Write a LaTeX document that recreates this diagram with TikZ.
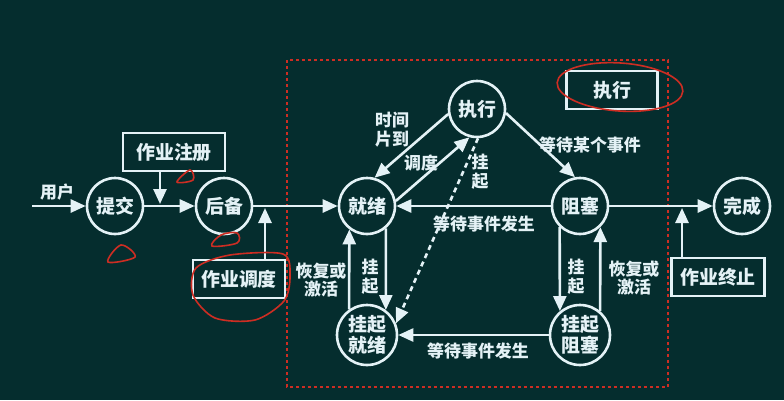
\documentclass[tikz,border=0pt]{standalone}
\usepackage{fontspec}
\setmainfont{Noto Sans CJK SC}
\usetikzlibrary{arrows.meta,positioning}
\definecolor{bgteal}{RGB}{5,45,46}
\definecolor{chalk}{RGB}{228,242,246}
\definecolor{markred}{RGB}{205,45,35}
\tikzset
{
    statenode/.style = {circle, draw=chalk, line width=2.6bp, minimum size=56bp, inner sep=0pt, align=center, text=chalk, font=\fontsize{19}{21}\selectfont\bfseries},
    boxnode/.style   = {rectangle, draw=chalk, line width=2.6bp, minimum height=38bp, align=center, text=chalk, font=\fontsize{19}{21}\selectfont\bfseries},
    edgelabel/.style = {align=center, text=chalk, inner sep=0pt, font=\fontsize{17}{19}\selectfont\bfseries},
    flow/.style      = {->, draw=chalk, line width=2.6bp},
    dashframe/.style = {draw=markred, line width=2.2bp, dash pattern=on 3bp off 3bp},
    redmark/.style   = {draw=markred, line width=1.6bp}
}
\begin{document}
\begin{tikzpicture}[x=1bp, y=-1bp, >={Triangle[length=15bp,width=13bp]}]
    \fill [bgteal] (0,0) rectangle (784,400);
    \useasboundingbox (0,0) rectangle (784,400);
    \draw [dashframe] (287,60) rectangle (668,387);

    \node [statenode] (submit)  at (115,206) {提交};
    \node [statenode] (backup)  at (224,206) {后备};
    \node [statenode] (ready)   at (367,206) {就绪};
    \node [statenode] (running) at (477,109) {执行};
    \node [statenode] (blocked) at (580,206) {阻塞};
    \node [statenode] (done)    at (742,206) {完成};
    \node [statenode, minimum size=60bp] (suspready) at (367,335) {挂起\\就绪};
    \node [statenode, minimum size=60bp] (suspblock) at (580,335) {挂起\\阻塞};

    \node [boxnode, minimum width=102bp] (register) at (174,152) {作业注册};
    \node [boxnode, minimum width=92bp]  (dispatch) at (239,279) {作业调度};
    \node [boxnode, minimum width=91bp]  (runbox)   at (612,90)  {执行};
    \node [boxnode, minimum width=93bp]  (finish)   at (718,277) {作业终止};

    \node [edgelabel] (user)     at (57,192)  {用户};
    \node [edgelabel] (lslice)   at (392,130) {时间\\片到};
    \node [edgelabel] (lsched)   at (421,163) {调度};
    \node [edgelabel] (lsusp1)   at (480,172) {挂\\起};
    \node [edgelabel] (lwait)    at (590,145) {等待某个事件};
    \node [edgelabel] (lhappen1) at (484,224) {等待事件发生};
    \node [edgelabel] (lsusp2)   at (370,277) {挂\\起};
    \node [edgelabel] (lresume1) at (321,280) {恢复或\\激活};
    \node [edgelabel] (lsusp3)   at (576,277) {挂\\起};
    \node [edgelabel] (lresume2) at (634,278) {恢复或\\激活};
    \node [edgelabel] (lhappen2) at (478,351) {等待事件发生};

    \coordinate (userin)   at (32,206);
    \coordinate (regjoin)  at (160,204);
    \coordinate (dispjoin) at (265,208);
    \coordinate (finjoin)  at (682,208);

    \draw [flow] (userin) -- (submit);
    \draw [flow] (submit) -- (backup);
    \draw [flow] (register.south -| regjoin) -- (regjoin);
    \draw [flow] (backup) -- (ready);
    \draw [flow] (dispatch.north -| dispjoin) -- (dispjoin);
    \draw [flow] (running.190) -- (ready.75);
    \draw [flow] (ready.10) -- (running.255);
    \draw [flow, dash pattern=on 5bp off 4bp] (running.272) -- (suspready.22);
    \draw [flow] (running.-8) -- (blocked.100);
    \draw [flow] (blocked) -- (ready);
    \draw [flow] (ready.-50) -- (suspready.53);
    \draw [flow] (suspready.125) -- (ready.233);
    \draw [flow] (blocked.226) -- (suspblock.130);
    \draw [flow] (suspblock.50) -- (blocked.-46);
    \draw [flow] (suspblock) -- (suspready);
    \draw [flow] (blocked) -- (done);
    \draw [flow] (finish.north -| finjoin) -- (finjoin);

    \draw [redmark] (620,87) ellipse [x radius=63bp, y radius=24bp, rotate=-4];
    \draw [redmark] plot [smooth cycle] coordinates {(283,254) (290,276) (284,301) (255,320) (215,318) (193,295) (196,268) (230,255)};
    \draw [redmark] plot [smooth cycle, tension=0.6] coordinates {(108,262) (121,245) (135,257)};
    \draw [redmark] plot [smooth cycle, tension=0.6] coordinates {(177,182) (190,170) (193,180)};
    \draw [redmark] plot [smooth cycle, tension=0.6] coordinates {(212,246) (221,235) (237,233) (237,243)};
\end{tikzpicture}
\end{document}
